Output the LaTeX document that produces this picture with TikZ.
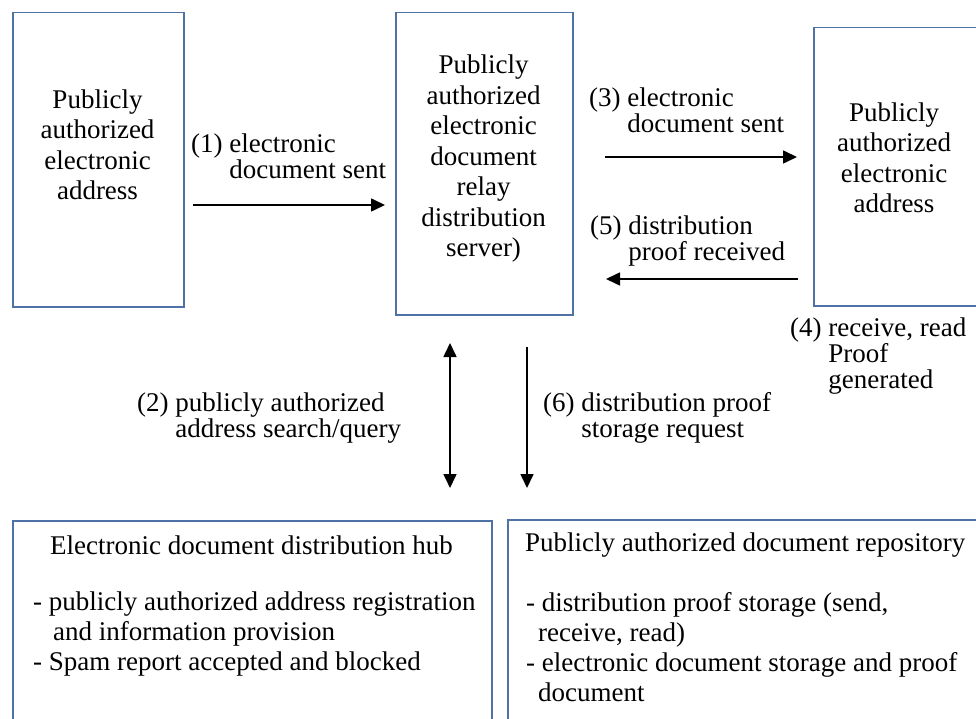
\documentclass[tikz,border=0pt]{standalone}
\usepackage{fontspec}
\setmainfont{Liberation Serif}
\newfontfamily\serf{Liberation Serif}
\usetikzlibrary{arrows.meta}
\definecolor{boxline}{HTML}{4F72A6}
\tikzset{
  box/.style={draw=boxline, line width=1.5pt, inner sep=0pt, anchor=north west},
  boxtext/.style={align=center, font=\serf\fontsize{27}{30.5}\selectfont, inner sep=0pt},
  lbl/.style={align=left, font=\serf\fontsize{27}{23.5}\selectfont, inner sep=0pt, anchor=west},
  btext/.style={align=left, font=\serf\fontsize{27}{30}\selectfont, inner sep=0pt, anchor=north west},
  tip/.tip={Triangle[length=14pt,width=13pt]},
  arr/.style={line width=1.6pt, -tip},
  darr/.style={line width=1.6pt, tip-tip}
}
\begin{document}
\begin{tikzpicture}[x=1pt,y=-1pt]
\useasboundingbox (0,0) rectangle (976,719);
% top boxes
\node[box, minimum width=171pt, minimum height=294pt] (L) at (12,12) {};
\node[box, minimum width=177pt, minimum height=302pt] (C) at (395,12) {};
\node[box, minimum width=180pt, minimum height=278pt] (R) at (813,27) {};
\node[boxtext] (Lt) at (97.5,145) {Publicly\\authorized\\electronic\\address};
\node[boxtext] (Ct) at (483.5,159) {Publicly\\authorized\\electronic\\document\\relay\\distribution\\server)};
\node[boxtext] (Rt) at (894,158) {Publicly\\authorized\\electronic\\address};
% bottom boxes
\node[box, minimum width=479pt, minimum height=220pt] (BL) at (12,520) {};
\node[box, minimum width=480pt, minimum height=220pt] (BR) at (507,519) {};
\node[align=center, font=\serf\fontsize{27}{30}\selectfont, inner sep=0pt] (BLh) at (251.5,545) {Electronic document distribution hub};
\node[btext] (BLt) at (33,592) {- publicly authorized address registration\\\hspace*{20pt}and information provision\\- Spam report accepted and blocked};
\node[font=\serf\fontsize{27}{30}\selectfont, inner sep=0pt, anchor=west] (BRh) at (525,545) {Publicly authorized document repository};
\node[btext] (BRt) at (526,592) {- distribution proof storage (send,\\\hspace*{12pt}receive, read)\\- electronic document storage and proof\\\hspace*{12pt}document};
% labels
\node[lbl] (l1) at (191,159) {(1) electronic\\\phantom{(1) }document sent};
\node[lbl] (l3) at (589,113) {(3) electronic\\\phantom{(3) }document sent};
\node[lbl] (l5) at (590,241) {(5) distribution\\\phantom{(5) }proof received};
\node[lbl] (l4) at (790,356) {(4) receive, read\\\phantom{(4) }Proof\\\phantom{(4) }generated};
\node[lbl] (l2) at (137,418) {(2) publicly authorized\\\phantom{(2) }address search/query};
\node[lbl] (l6) at (543,418) {(6) distribution proof\\\phantom{(6) }storage request};
% arrow end points
\coordinate (a1s) at (193,205); \coordinate (a1e) at (385,205);
\coordinate (a3s) at (605,157); \coordinate (a3e) at (797,157);
\coordinate (a5s) at (798,279); \coordinate (a5e) at (606,279);
\coordinate (a2s) at (450,343); \coordinate (a2e) at (450,488);
\coordinate (a6s) at (527,347); \coordinate (a6e) at (527,488);
\draw[arr] (a1s) -- (a1e);
\draw[arr] (a3s) -- (a3e);
\draw[arr] (a5s) -- (a5e);
\draw[darr] (a2s) -- (a2e);
\draw[arr] (a6s) -- (a6e);
\end{tikzpicture}
\end{document}
